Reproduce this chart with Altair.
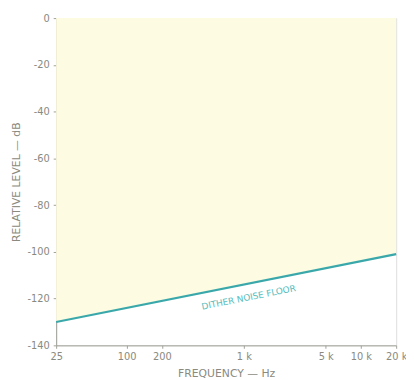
import altair as alt
import pandas as pd

freq = [25, 20000]
level = [-130, -101]
label_freq = [1100]
label_level = [-119.5]
label_text = ["DITHER NOISE FLOOR"]
x_ticks = [25, 100, 200, 1000, 5000, 10000, 20000]
x_tick_labels = ["25", "100", "200", "1 k", "5 k", "10 k", "20 k"]
y_ticks = [0, -20, -40, -60, -80, -100, -120, -140]

df = pd.DataFrame({"freq": freq, "level": level})
lab = pd.DataFrame({"freq": label_freq, "level": label_level, "text": label_text})

expr = " : ".join(
    [f"datum.value == {v} ? '{t}'" for v, t in zip(x_ticks, x_tick_labels)]
) + " : ''"

gray = "#8a8a80"
xs = alt.X(
    "freq:Q",
    scale=alt.Scale(type="log", domain=[25, 20000], nice=False),
    axis=alt.Axis(
        values=x_ticks, labelExpr=expr, title="FREQUENCY — Hz", grid=False,
        domainColor="#a0a098", tickColor="#a0a098", tickSize=3, labelColor=gray,
        titleColor=gray, labelFontSize=10, titleFontSize=11, titleFontWeight="normal",
        labelPadding=3, titlePadding=7, labelFont="DejaVu Sans", titleFont="DejaVu Sans",
        labelFlush=False, labelOverlap=False,
    ),
)
ys = alt.Y(
    "level:Q",
    scale=alt.Scale(domain=[-140, 0], nice=False),
    axis=alt.Axis(
        values=y_ticks, labelExpr="datum.value == 0 ? '0' : '-' + abs(datum.value)",
        title="RELATIVE LEVEL — dB", grid=False,
        domainColor="#a0a098", tickColor="#a0a098", tickSize=3, labelColor=gray,
        titleColor=gray, labelFontSize=10, titleFontSize=11, titleFontWeight="normal",
        labelPadding=4, titlePadding=6, labelFont="DejaVu Sans", titleFont="DejaVu Sans",
        labelFlush=False,
    ),
)

area = alt.Chart(df).mark_area(color="#fdfbe1", opacity=1).encode(
    x=xs, y=ys, y2=alt.datum(0)
)
line = alt.Chart(df).mark_line(color="#3aa8aa", strokeWidth=2.2).encode(x=xs, y=ys)
text = alt.Chart(lab).mark_text(
    color="#55bcbc", fontSize=9, angle=348.7, font="DejaVu Sans"
).encode(x=xs, y=ys, text="text:N")

chart = (
    alt.layer(area, line, text)
    .properties(
        width=346, height=333,
        autosize=alt.AutoSizeParams(type="none"),
        padding={"left": 49, "top": 7, "right": 10, "bottom": 32},
    )
    .configure_view(stroke=None)
    .configure(background="white")
)

chart.save("out.html", embed_options={"renderer": "svg", "actions": False})
